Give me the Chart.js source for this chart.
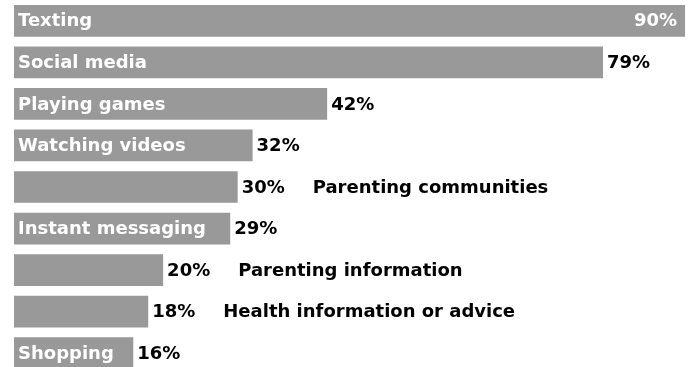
<!DOCTYPE html>
<html>
<head>
<meta charset="utf-8">
<script src="https://cdn.jsdelivr.net/npm/chart.js@4/dist/chart.umd.min.js"></script>
<style>
  html, body { margin: 0; padding: 0; background: #fff; overflow: hidden; }
  #wrap { position: relative; width: 694px; height: 374px; }
</style>
</head>
<body>
<div id="wrap"><canvas id="usageChart"></canvas></div>
<script>
const categories = [
  "Texting",
  "Social media",
  "Playing games",
  "Watching videos",
  "Parenting communities",
  "Instant messaging",
  "Parenting information",
  "Health information or advice",
  "Shopping",
];
const shares = [90, 79, 42, 32, 30, 29, 20, 18, 16];
// "in" = name sits inside the bar, "out" = name follows the percentage
const namePlacement = ["in", "in", "in", "in", "out", "in", "out", "out", "in"];

const FONT = "700 18px 'DejaVu Sans', sans-serif";

const barLabels = {
  id: "barLabels",
  afterDatasetsDraw(chart) {
    const ctx = chart.ctx;
    const meta = chart.getDatasetMeta(0);
    ctx.save();
    ctx.font = FONT;
    ctx.textBaseline = "middle";
    meta.data.forEach((bar, i) => {
      const y = bar.y + 1;
      const pct = shares[i] + "%";
      if (namePlacement[i] === "in") {
        ctx.fillStyle = "#ffffff";
        ctx.textAlign = "left";
        ctx.fillText(categories[i], bar.base + 4, y);
      }
      if (i === 0) {
        // widest bar carries its value inside, right aligned
        ctx.fillStyle = "#ffffff";
        ctx.textAlign = "right";
        ctx.fillText(pct, bar.x - 8, y);
        return;
      }
      ctx.fillStyle = "#000000";
      ctx.textAlign = "left";
      const px = bar.x + 4;
      ctx.fillText(pct, px, y);
      if (namePlacement[i] === "out") {
        const w = ctx.measureText(pct).width;
        ctx.fillText(categories[i], px + w + 28, y);
      }
    });
    ctx.restore();
  },
};

const ctx = document.getElementById("usageChart").getContext("2d");
new Chart(ctx, {
  type: "bar",
  data: {
    labels: categories,
    datasets: [
      {
        data: shares,
        backgroundColor: "#999999",
        borderWidth: 0,
        barPercentage: 0.764,
        categoryPercentage: 1,
      },
    ],
  },
  options: {
    indexAxis: "y",
    responsive: true,
    maintainAspectRatio: false,
    animation: false,
    layout: { padding: { left: 14, right: 0, top: 0, bottom: 0 } },
    plugins: {
      legend: { display: false },
      tooltip: { enabled: false },
    },
    scales: {
      x: { display: false, min: 0, max: 91.2 },
      y: { display: false },
    },
  },
  plugins: [barLabels],
});
</script>
</body>
</html>
